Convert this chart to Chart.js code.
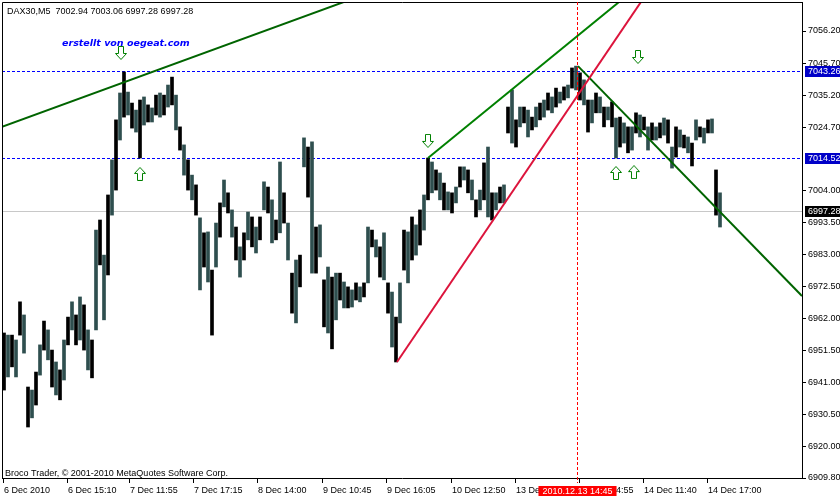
<!DOCTYPE html>
<html>
<head>
<meta charset="utf-8">
<title>DAX30,M5</title>
<script src="https://cdn.jsdelivr.net/npm/chart.js@4.4.0/dist/chart.umd.min.js"></script>
<style>
  html, body { margin: 0; padding: 0; background: #fff; }
  canvas { display: block; }
</style>
</head>
<body>
<canvas id="chart" width="840" height="498"></canvas>
<script>
// DAX30 M5 - one entry per group of 4 bars (high / low of the group)
const barHigh = [
  6957.3, 6956.6, 6956.6, 6955.0, 6967.5, 6963.2, 6939.6, 6938.6, 6944.5, 6953.4,
  6961.2, 6958.3, 6951.7, 6947.8, 6945.2, 6955.0, 6962.5, 6967.5, 6963.2, 6969.1,
  6966.5, 6958.3, 6955.0, 6991.0, 6994.3, 6982.8, 7002.5, 7014.0, 7027.1, 7035.9,
  7042.8, 7036.2, 7032.6, 7030.3, 7033.6, 7034.6, 7032.0, 7031.0, 7035.2, 7035.9,
  7035.2, 7038.5, 7041.1, 7035.2, 7024.8, 7018.9, 7014.0, 7009.0, 7005.8, 6995.0,
  6990.1, 6990.4, 6977.9, 6993.3, 6999.9, 7007.4, 7003.2, 6997.6, 6992.0, 6985.5,
  6990.1, 6996.9, 6995.3, 6992.0, 6995.3, 7006.8, 7005.1, 7000.9, 6994.3, 7013.3,
  7003.2, 6993.3, 6976.9, 6981.2, 6982.8, 7021.2, 7018.2, 7019.9, 6992.0, 6992.7,
  6974.7, 6978.9, 6975.6, 6976.9, 6976.9, 6974.0, 6972.4, 6971.4, 6973.7, 6972.4,
  6973.7, 6992.0, 6991.0, 6987.8, 6985.5, 6990.1, 6973.7, 6970.7, 6962.5, 6973.7,
  6991.0, 6990.4, 6995.3, 6992.7, 6997.6, 7002.5, 7014.6, 7013.3, 7010.7, 7009.7,
  7006.4, 7003.5, 7003.2, 7005.1, 7011.7, 7011.7, 7010.7, 7007.4, 7000.9, 7004.1,
  7013.0, 7018.2, 7003.2, 7003.2, 7005.1, 7005.8, 7031.3, 7036.9, 7027.1, 7031.3,
  7031.3, 7030.3, 7028.0, 7031.3, 7032.6, 7033.6, 7035.9, 7034.6, 7037.5, 7036.2,
  7037.9, 7038.5, 7044.1, 7044.7, 7042.5, 7040.2, 7033.6, 7033.6, 7035.9, 7034.6,
  7031.3, 7031.3, 7033.0, 7027.7, 7028.0, 7026.1, 7024.8, 7024.8, 7029.4, 7028.7,
  7028.0, 7024.8, 7026.1, 7024.8, 7026.1, 7027.7, 7027.1, 7018.2, 7024.8, 7023.8,
  7022.1, 7021.5, 7019.5, 7027.1, 7024.8, 7024.4, 7027.1, 7027.4, 7010.7, 7003.2
];
const barLow = [
  6938.6, 6942.9, 6946.2, 6942.9, 6956.6, 6950.7, 6926.5, 6929.5, 6933.7, 6943.5,
  6951.7, 6948.5, 6939.6, 6937.0, 6935.4, 6941.9, 6953.4, 6958.3, 6953.4, 6955.0,
  6951.7, 6945.2, 6942.6, 6958.3, 6979.6, 6961.6, 6976.3, 6995.9, 7004.1, 7020.5,
  7028.0, 7028.7, 7024.4, 7023.1, 7014.6, 7025.4, 7026.4, 7026.4, 7028.7, 7028.0,
  7028.7, 7031.3, 7032.0, 7023.8, 7017.2, 7009.0, 7004.1, 7000.9, 6995.9, 6971.4,
  6978.9, 6974.0, 6956.6, 6978.9, 6988.7, 6998.6, 6996.6, 6988.7, 6981.2, 6975.6,
  6981.2, 6987.8, 6985.5, 6983.5, 6987.8, 6997.6, 6996.6, 6986.8, 6987.8, 6990.1,
  6993.3, 6981.2, 6963.8, 6960.6, 6972.4, 7011.7, 7001.8, 6976.9, 6976.9, 6982.2,
  6959.3, 6957.3, 6952.1, 6961.6, 6968.1, 6965.5, 6965.5, 6965.8, 6968.1, 6967.5,
  6969.1, 6973.7, 6985.5, 6982.2, 6975.6, 6974.7, 6963.8, 6952.7, 6947.8, 6960.6,
  6977.9, 6973.7, 6981.2, 6982.8, 6986.1, 6991.0, 7000.9, 7003.2, 7004.1, 7000.9,
  6997.6, 6997.6, 6996.6, 6999.9, 7005.1, 7007.4, 7003.2, 7000.9, 6995.3, 6997.6,
  7000.9, 6995.3, 6994.3, 6997.6, 6999.9, 6999.9, 7022.8, 7019.5, 7018.2, 7024.8,
  7026.1, 7021.5, 7023.8, 7024.8, 7027.1, 7028.0, 7030.3, 7029.4, 7031.3, 7032.6,
  7033.6, 7034.3, 7037.5, 7036.9, 7033.6, 7032.0, 7023.1, 7026.1, 7029.4, 7029.4,
  7024.8, 7027.1, 7024.8, 7014.6, 7018.2, 7019.5, 7016.3, 7017.2, 7022.8, 7021.5,
  7023.8, 7017.2, 7020.5, 7020.5, 7021.2, 7022.1, 7019.5, 7011.3, 7014.9, 7018.2,
  7017.9, 7016.3, 7012.0, 7020.5, 7021.5, 7019.5, 7022.8, 7022.8, 6995.9, 6992.0
];
const BARS_PER_COL = 4;
const TOTAL_BARS = 800;

const timeTicks = [1, 65, 127, 191, 255, 320, 384, 449, 513, 577, 641, 705];
const timeLabels = ['6 Dec 2010', '6 Dec 15:10', '7 Dec 11:55', '7 Dec 17:15', '8 Dec 14:00',
  '9 Dec 10:45', '9 Dec 16:05', '10 Dec 12:50', '13 Dec 09:35', '13 Dec 14:55',
  '14 Dec 11:40', '14 Dec 17:00'];
const priceTicks = [7056.20, 7045.70, 7035.20, 7024.70, 7004.00, 6993.50, 6983.00,
  6972.50, 6962.00, 6951.50, 6941.00, 6930.50, 6920.00, 6909.80];
const PRICE_MIN = 6909.8;
const PRICE_MAX = 7065.7;

const levels = [7043.26, 7014.52];
const lastPrice = 6997.28;
const header = 'DAX30,M5  7002.94 7003.06 6997.28 6997.28';
const credit = 'erstellt von oegeat.com';
const copyright = 'Broco Trader, \u00a9 2001-2010 MetaQuotes Software Corp.';
const crossBar = 575;
const crossLabel = '2010.12.13 14:45';

const upArrowBar = [138, 614, 632];
const upArrowPrice = [7009.4, 7009.7, 7010.0];
const downArrowBar = [119, 426, 636];
const downArrowPrice = [7049.0, 7020.2, 7047.7];

// trend lines, [bar, price] anchors
const trendOld = [[0, 7024.8], [346, 7066.2]];
const trendChannel = [[426, 7014.6], [620, 7066.5]];
const trendRed = [[395, 6947.8], [641, 7066.7]];
const trendDown = [[576, 7044.7], [800, 6969.4]];

function arrowImage(up) {
  const c = document.createElement('canvas');
  c.width = 12;
  c.height = 14;
  const g = c.getContext('2d');
  const pts = [[6, 0.5], [11.5, 6.5], [8.5, 6.5], [8.5, 13.5], [3.5, 13.5], [3.5, 6.5], [0.5, 6.5]];
  g.beginPath();
  pts.forEach(([px, py], i) => {
    const yy = up ? py : 14 - py;
    if (i) g.lineTo(px, yy); else g.moveTo(px, yy);
  });
  g.closePath();
  g.fillStyle = '#fff';
  g.fill();
  g.strokeStyle = '#008000';
  g.lineWidth = 1;
  g.stroke();
  return c;
}

const toPoints = (pairs) => pairs.map(([x, y]) => ({ x, y }));

function trendSet(pairs, color) {
  return {
    type: 'line',
    data: toPoints(pairs),
    borderColor: color,
    borderWidth: 2,
    pointRadius: 0,
    tension: 0,
    order: 1,
  };
}

const overlay = {
  id: 'overlay',
  beforeDatasetsDraw(chart) {
    const { ctx, chartArea: a, scales: { y } } = chart;
    ctx.save();
    ctx.lineWidth = 1;
    ctx.strokeStyle = '#c8c8c8';
    let py = Math.round(y.getPixelForValue(lastPrice)) + 0.5;
    ctx.beginPath(); ctx.moveTo(a.left, py); ctx.lineTo(a.right, py); ctx.stroke();
    ctx.strokeStyle = '#0000ff';
    ctx.setLineDash([3, 2]);
    levels.forEach((lv) => {
      py = Math.round(y.getPixelForValue(lv)) + 0.5;
      ctx.beginPath(); ctx.moveTo(a.left, py); ctx.lineTo(a.right, py); ctx.stroke();
    });
    ctx.restore();
  },
  afterDraw(chart) {
    const { ctx, chartArea: a, scales: { x, y } } = chart;
    ctx.save();
    // frame left / top
    ctx.strokeStyle = '#000';
    ctx.lineWidth = 1;
    ctx.beginPath();
    ctx.moveTo(a.left + 0.5, a.bottom);
    ctx.lineTo(a.left + 0.5, a.top + 0.5);
    ctx.lineTo(a.right, a.top + 0.5);
    ctx.stroke();

    // crosshair
    const cx = Math.round(x.getPixelForValue(crossBar)) + 0.5;
    ctx.strokeStyle = '#ff0000';
    ctx.setLineDash([3, 2]);
    ctx.beginPath(); ctx.moveTo(cx, a.top); ctx.lineTo(cx, a.bottom + 5); ctx.stroke();
    ctx.setLineDash([]);

    ctx.font = '9px "Liberation Sans"';
    ctx.textBaseline = 'middle';
    const tw = ctx.measureText(crossLabel).width;
    ctx.fillStyle = '#ff0000';
    ctx.fillRect(cx - tw / 2 - 4, a.bottom + 8, tw + 8, 10);
    ctx.fillStyle = '#fff';
    ctx.textAlign = 'center';
    ctx.fillText(crossLabel, cx, a.bottom + 13.5);

    // price boxes on the right axis
    ctx.textAlign = 'left';
    const boxes = [[levels[0], '#0000c8'], [levels[1], '#0000c8'], [lastPrice, '#000']];
    boxes.forEach(([v, col]) => {
      const py = Math.round(y.getPixelForValue(v));
      ctx.fillStyle = col;
      ctx.fillRect(a.right + 3, py - 5, 35, 11);
      ctx.fillStyle = '#fff';
      ctx.fillText(v.toFixed(2), a.right + 6, py + 0.5);
    });

    // texts
    ctx.fillStyle = '#000';
    ctx.textBaseline = 'alphabetic';
    ctx.fillText(header, 7, 14);
    ctx.fillText(copyright, 5, a.bottom - 2);
    ctx.fillStyle = '#0000ff';
    ctx.font = 'italic bold 9.5px "DejaVu Sans"';
    ctx.fillText(credit, 62, 46);
    ctx.restore();
  },
};

Chart.defaults.font.family = '"Liberation Sans", Arial, sans-serif';
Chart.defaults.font.size = 9;
Chart.defaults.color = '#000';

new Chart(document.getElementById('chart'), {
  type: 'bar',
  data: {
    datasets: [
      {
        type: 'scatter',
        data: upArrowBar.map((b, i) => ({ x: b, y: upArrowPrice[i] })),
        pointStyle: arrowImage(true),
        pointRadius: 6,
        order: 0,
      },
      {
        type: 'scatter',
        data: downArrowBar.map((b, i) => ({ x: b, y: downArrowPrice[i] })),
        pointStyle: arrowImage(false),
        pointRadius: 6,
        order: 0,
      },
      trendSet(trendOld, '#006400'),
      trendSet(trendChannel, '#008000'),
      trendSet(trendRed, '#dc143c'),
      trendSet(trendDown, '#006400'),
      {
        type: 'bar',
        data: barHigh.map((h, i) => ({ x: i * BARS_PER_COL + 2, y: [barLow[i], h] })),
        backgroundColor: (ctx) => (ctx.dataIndex % 2 ? '#2f4f4f' : '#000000'),
        barThickness: 3,
        order: 3,
      },
    ],
  },
  options: {
    responsive: false,
    animation: false,
    devicePixelRatio: 1,
    layout: { autoPadding: false, padding: { left: 2, top: 2, right: 0, bottom: 0 } },
    plugins: { legend: { display: false }, tooltip: { enabled: false } },
    scales: {
      x: {
        type: 'linear',
        min: 0,
        max: TOTAL_BARS,
        offset: false,
        border: { display: true, color: '#000' },
        grid: { display: true, offset: false, drawOnChartArea: false, tickLength: 5, color: '#000' },
        ticks: {
          autoSkip: false,
          maxRotation: 0,
          minRotation: 0,
          align: 'start',
          labelOffset: 1,
          padding: 2,
          callback: (v, i) => timeLabels[i],
        },
        afterBuildTicks: (axis) => { axis.ticks = timeTicks.map((v) => ({ value: v })); },
        afterFit: (axis) => { axis.height = 20; axis.paddingLeft = 0; axis.paddingRight = 0; },
      },
      y: {
        type: 'linear',
        position: 'right',
        min: PRICE_MIN,
        max: PRICE_MAX,
        beginAtZero: false,
        border: { display: true, color: '#000' },
        grid: { display: true, drawOnChartArea: false, tickLength: 4, color: '#000' },
        ticks: {
          padding: 2,
          callback: (v) => v.toFixed(2),
        },
        afterBuildTicks: (axis) => { axis.ticks = priceTicks.map((v) => ({ value: v })); },
        afterFit: (axis) => { axis.width = 38; axis.paddingTop = 0; axis.paddingBottom = 0; },
      },
    },
  },
  plugins: [overlay],
});
</script>
</body>
</html>
